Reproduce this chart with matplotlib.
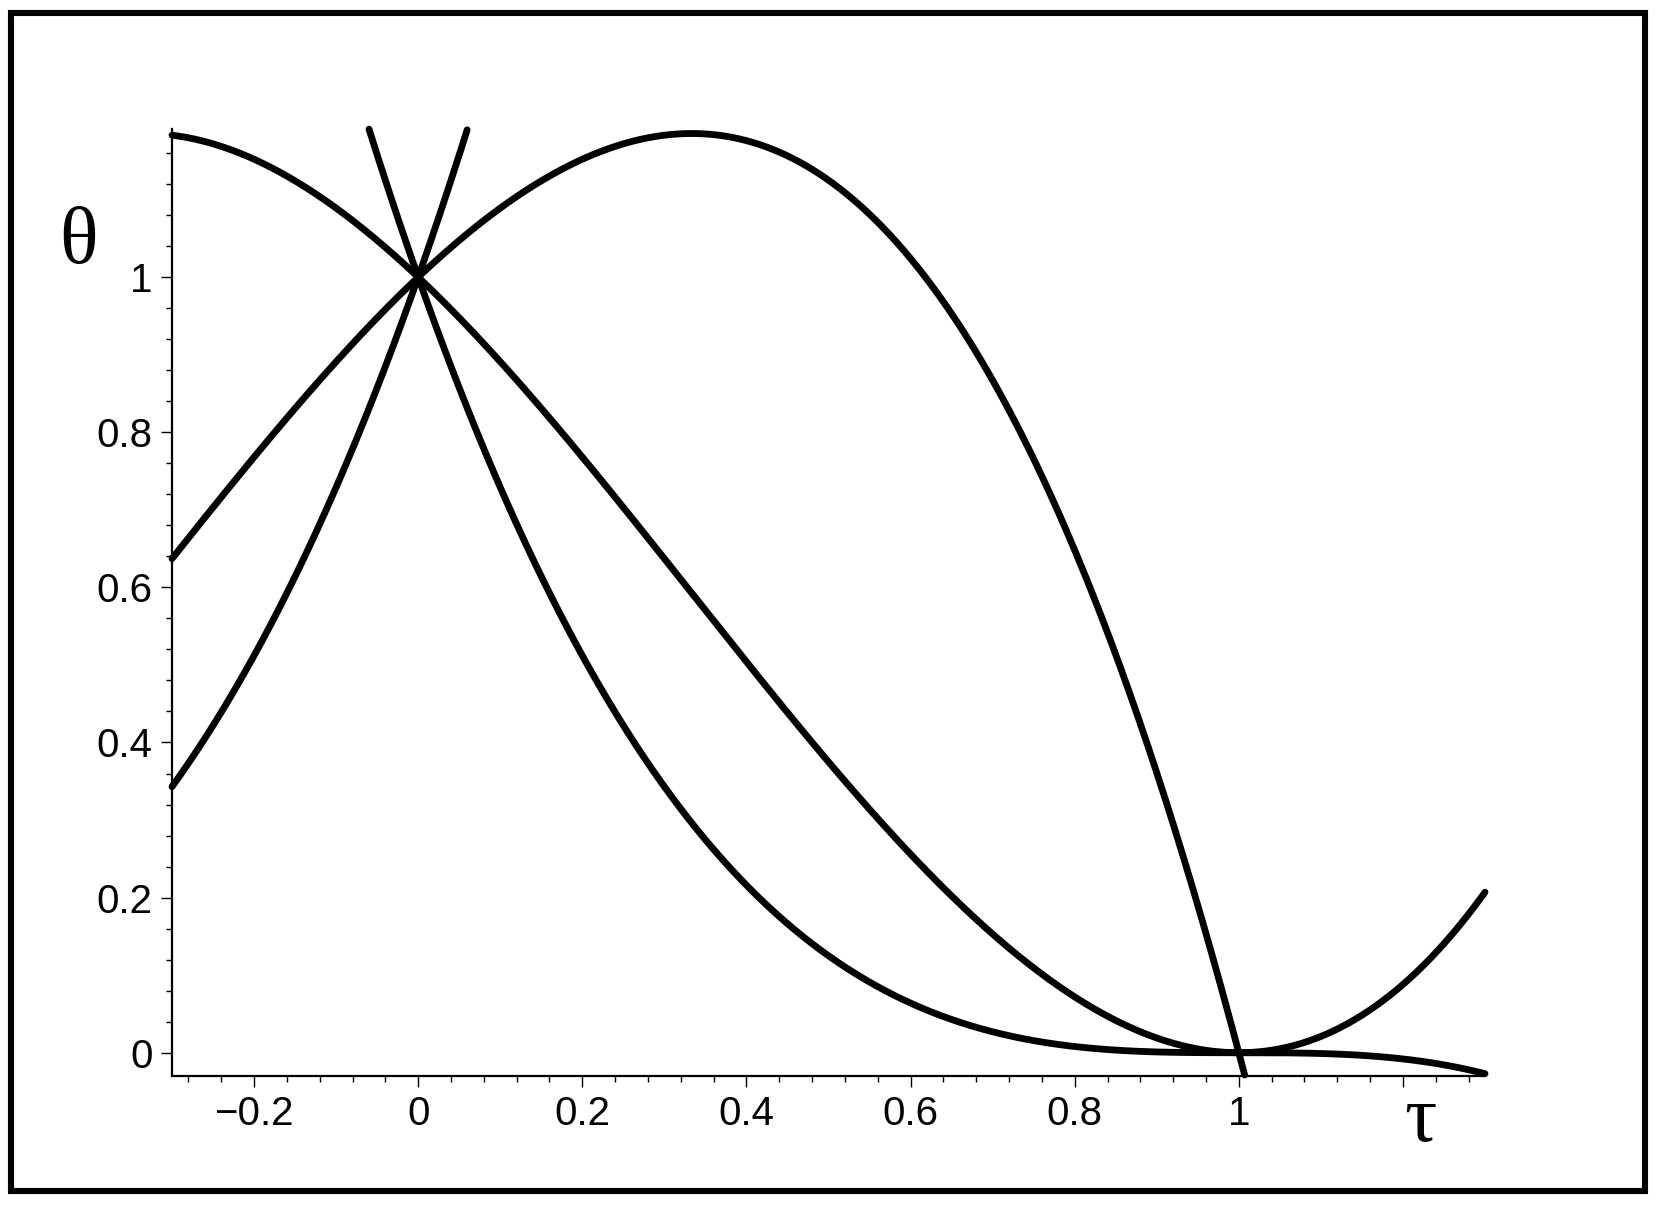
import matplotlib.pyplot as plt
import numpy as np
from matplotlib.patches import Rectangle

# curves of the form (1 - tau)^a * (1 + tau)^b, a + b = 3
exp_a = [3, 2, 1, 0]
exp_b = [0, 1, 2, 3]

x_ticks = [-0.2, 0, 0.2, 0.4, 0.6, 0.8, 1, 1.2]
x_labels = ["\u22120.2", "0", "0.2", "0.4", "0.6", "0.8", "1", ""]
y_ticks = [0, 0.2, 0.4, 0.6, 0.8, 1]
y_labels = ["0", "0.2", "0.4", "0.6", "0.8", "1"]

xmin, xmax = -0.3, 1.3
ymin, ymax = -0.03, 1.191

fig = plt.figure(figsize=(16.58, 12.09), dpi=100)
ax = fig.add_axes([172 / 1658, 1 - 1076 / 1209, (1485 - 172) / 1658, (1076 - 129) / 1209])

tau = np.linspace(xmin, xmax, 4000)
for a, b in zip(exp_a, exp_b):
    th = (1 - tau) ** a * (1 + tau) ** b
    keep = (th >= ymin) & (th <= ymax)
    ax.plot(tau[keep], th[keep], color="black", lw=4.9,
            solid_capstyle="round", clip_on=False, zorder=3)

ax.set_xlim(xmin, xmax)
ax.set_ylim(ymin, ymax)

for s in ["top", "right"]:
    ax.spines[s].set_visible(False)
for s in ["left", "bottom"]:
    ax.spines[s].set_linewidth(1.6)

ax.set_xticks(x_ticks)
ax.set_xticklabels(x_labels)
ax.set_yticks(y_ticks)
ax.set_yticklabels(y_labels)
ax.set_xticks(np.arange(-0.28, 1.3, 0.04), minor=True)
ax.set_yticks(np.arange(0.04, 1.19, 0.04), minor=True)

ax.tick_params(which="major", length=8, width=1, direction="out", pad=6,
               labelsize=29, colors="black")
ax.tick_params(which="minor", length=4.5, width=1, direction="out")
for lab in ax.get_xticklabels() + ax.get_yticklabels():
    lab.set_family("Liberation Sans")

fig.text(79 / 1658, 1 - 243 / 1209, "\u03b8", family="Liberation Serif",
         fontsize=58, ha="center", va="center")
fig.text(1420 / 1658, 1 - 1122 / 1209, "\u03c4", family="Liberation Serif",
         fontsize=58, ha="center", va="center")

# outer frame
fig.patches.append(Rectangle((11.5 / 1658, 1 - 1191 / 1209),
                             (1645 - 11.5) / 1658, (1191 - 12.5) / 1209,
                             transform=fig.transFigure, fill=False,
                             edgecolor="black", lw=4.4))

fig.savefig("out.png", dpi=100)
